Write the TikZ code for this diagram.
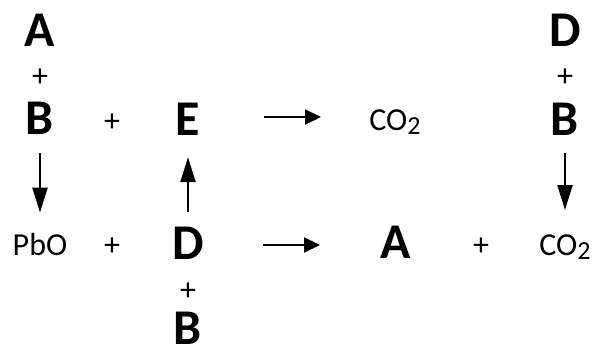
\documentclass[tikz,border=0pt]{standalone}
\usepackage{fontspec}
\setmainfont{Carlito}
\usetikzlibrary{arrows.meta}
\newcommand{\cotwo}{CO\raisebox{-4pt}{\fontsize{26}{26}\selectfont 2}}
\tikzset{
  big/.style={font=\bfseries\fontsize{50}{50}\selectfont, inner sep=0pt, anchor=base},
  chem/.style={font=\fontsize{32}{32}\selectfont, inner sep=0pt, anchor=base},
  plus/.style={font=\fontsize{32}{32}\selectfont, inner sep=0pt, anchor=center},
  harr/.style={line width=2.2pt, -{Triangle[length=16pt,width=15pt]}},
  varr/.style={line width=2.2pt, -{Triangle[length=25pt,width=15pt]}}
}
\begin{document}
\begin{tikzpicture}[x=1pt,y=-1pt]
\useasboundingbox (0,0) rectangle (595,347);
% top-left column and top row
\node[big]  (A1) at (40,47)  {A};
\node[plus] (p1) at (40,78)  {+};
\node[big]  (B1) at (40,135) {B};
\node[plus] (p2) at (112,123) {+};
\node[big]  (E1) at (188,136) {E};
\node[chem] (C1) at (395,131) {\cotwo};
% top-right column
\node[big]  (D2) at (565,47)  {D};
\node[plus] (p3) at (565,78)  {+};
\node[big]  (B2) at (565,136) {B};
% bottom row
\node[chem] (Pb) at (40,256)  {PbO};
\node[plus] (p4) at (112,247) {+};
\node[big]  (D1) at (188,260) {D};
\node[big]  (A2) at (396,259) {A};
\node[plus] (p5) at (481,247) {+};
\node[chem] (C2) at (565,256) {\cotwo};
\node[plus] (p6) at (188,292) {+};
\node[big]  (B3) at (188,345) {B};
% horizontal reaction arrows
\coordinate (h1s) at (264,117);
\coordinate (h1e) at (321,117);
\coordinate (h2s) at (263,245);
\coordinate (h2e) at (320,245);
\draw[harr] (h1s) -- (h1e);
\draw[harr] (h2s) -- (h2e);
% vertical arrows
\draw[varr, shorten <=18pt, shorten >=21pt] (B1.south) -- (Pb.north -| B1.south);
\draw[varr, shorten <=15pt, shorten >=21pt] (D1.north) -- (E1.south);
\draw[varr, shorten <=17pt, shorten >=25pt] (B2.south) -- (C2.north -| B2.south);
\end{tikzpicture}
\end{document}
